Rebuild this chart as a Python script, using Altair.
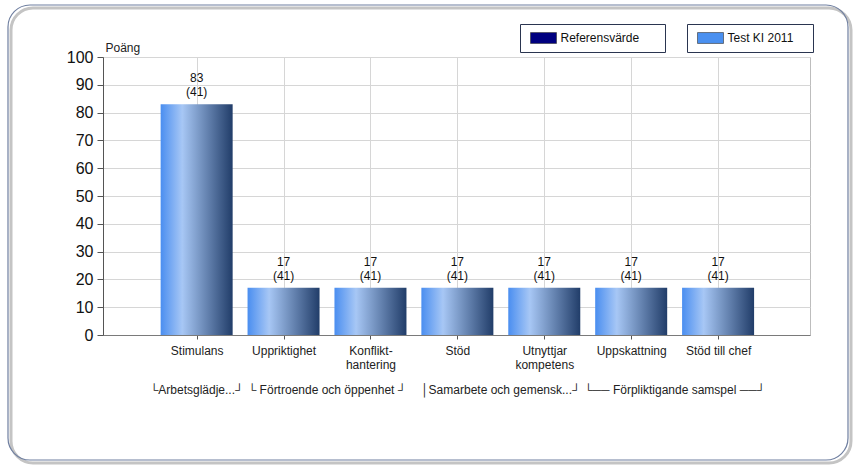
import json
import altair as alt
import pandas as pd

# ---- data ----
categories = ["Stimulans", "Uppriktighet", "Konflikt-\nhantering", "Stöd",
              "Utnyttjar\nkompetens", "Uppskattning", "Stöd till chef"]
values = [83, 17, 17, 17, 17, 17, 17]
counts = [41, 41, 41, 41, 41, 41, 41]
group_of = [0, 1, 1, 2, 2, 3, 3]
group_labels = ["└Arbetsglädje...┘", "└ Förtroende och öppenhet ┘",
                "│Samarbete och gemensk...┘", "└── Förpliktigande samspel ──┘"]
series_ref = "Referensvärde"
series_test = "Test KI 2011"
y_ticks = list(range(0, 101, 10))

FONT = "Liberation Sans"

positions = list(range(1, len(categories) + 1))
df = pd.DataFrame({"pos": positions, "cat": categories, "value": values, "n": counts})
df["label"] = df["value"].astype(str) + "\n(" + df["n"].astype(str) + ")"

gdf = pd.DataFrame({"pos": positions, "g": group_of}).groupby("g")["pos"].mean().reset_index()
gdf["text"] = [group_labels[i] for i in gdf["g"]]
gdf["zero"] = 0

label_expr = "split(" + json.dumps(categories) + "[datum.value - 1], '\\n')"

xscale = alt.Scale(domain=[-0.02, 8], nice=False, zero=False)
yscale = alt.Scale(domain=[0, 100], nice=False)

x_axis = alt.Axis(values=positions, labelExpr=label_expr, title=None, grid=True,
                  gridColor="#d6d6d6", domainColor="#7a7a7a", tickColor="#555555",
                  tickSize=4, labelFontSize=12, labelFont=FONT, labelColor="#222222",
                  labelPadding=6, labelLineHeight=14, labelAngle=0, labelBaseline="top")
y_axis = alt.Axis(values=y_ticks, title="Poäng", titleAngle=0, titleX=2, titleY=-3,
                  titleAlign="left", titleBaseline="bottom", titleFontWeight="normal",
                  titleFontSize=12, titleFont=FONT, titleColor="#222222",
                  grid=True, gridColor="#d6d6d6", domainColor="#555555", tickColor="#555555",
                  tickSize=6, labelFontSize=16, labelFont=FONT, labelColor="#111111",
                  labelPadding=4, labelOverlap=False)

gradient = alt.Gradient(
    gradient="linear", x1=0, x2=1, y1=0, y2=0,
    stops=[alt.GradientStop(offset=0, color="#4a8ef0"),
           alt.GradientStop(offset=0.3, color="#a7c7f5"),
           alt.GradientStop(offset=1, color="#213d69")])

X = alt.X("pos:Q", scale=xscale, axis=x_axis)

base = alt.Chart(df)

bars = base.mark_bar(size=72, color=gradient).encode(
    x=X,
    y=alt.Y("value:Q", scale=yscale, axis=y_axis),
)

value_text = base.mark_text(lineBreak="\n", baseline="bottom", dy=-19, fontSize=12,
                            font=FONT, color="#111111", lineHeight=14).encode(
    x=X,
    y=alt.Y("value:Q", scale=yscale, axis=y_axis),
    text="label:N",
)

group_text = alt.Chart(gdf).mark_text(baseline="middle", dy=55, fontSize=12, font=FONT,
                                      color="#222222").encode(
    x=X,
    y=alt.Y("zero:Q", scale=yscale, axis=y_axis),
    text="text:N",
)

sym = "M-2,-0.84H2V0.84H-2Z"


def legend_layer(name, color, lx, pad):
    return alt.Chart(pd.DataFrame({"s": [name]})).mark_square(opacity=0).encode(
        x=alt.value(0), y=alt.value(0),
        color=alt.Color("s:N", scale=alt.Scale(domain=[name], range=[color]),
                        legend=alt.Legend(orient="none", legendX=lx, legendY=-33,
                                          title=None, strokeColor="#2a3550",
                                          fillColor="white", padding=7,
                                          symbolType=sym, symbolSize=169,
                                          symbolOffset=9.5,
                                          symbolOpacity=1, symbolStrokeWidth=0.6,
                                          symbolStrokeColor="#333333",
                                          labelFontSize=12, labelFont=FONT,
                                          labelColor="#111111", labelOffset=10,
                                          labelExpr="datum.label + '" + "\u2002" * pad + "\u2060'")),
    )


leg_ref = legend_layer(series_ref, "#000080", 417, 3)
leg_test = legend_layer(series_test, "#4a90f0", 584, 2)

frame_df = pd.DataFrame({"a": [0]})
shadow = alt.Chart(frame_df).mark_rect(cornerRadius=22, fillOpacity=0, stroke="#c4c4c4",
                                       strokeWidth=3, clip=False).encode(
    x=alt.value(-92), x2=alt.value(748), y=alt.value(-49), y2=alt.value(406))
frame = alt.Chart(frame_df).mark_rect(cornerRadius=22, fillOpacity=0, stroke="#6f7fa0",
                                      strokeWidth=1.2, clip=False).encode(
    x=alt.value(-95), x2=alt.value(745), y=alt.value(-52), y2=alt.value(403))

chart = alt.layer(shadow, frame, bars, value_text, group_text, leg_ref, leg_test).resolve_scale(
    color="independent"
).properties(
    width=707, height=278,
    padding={"left": 103, "top": 57, "right": 45, "bottom": 136},
    autosize=alt.AutoSizeParams(type="none"),
    background="white",
).configure_view(stroke="#bdbdbd", strokeWidth=1)

chart.save("out.html", embed_options={"renderer": "svg", "actions": False})
